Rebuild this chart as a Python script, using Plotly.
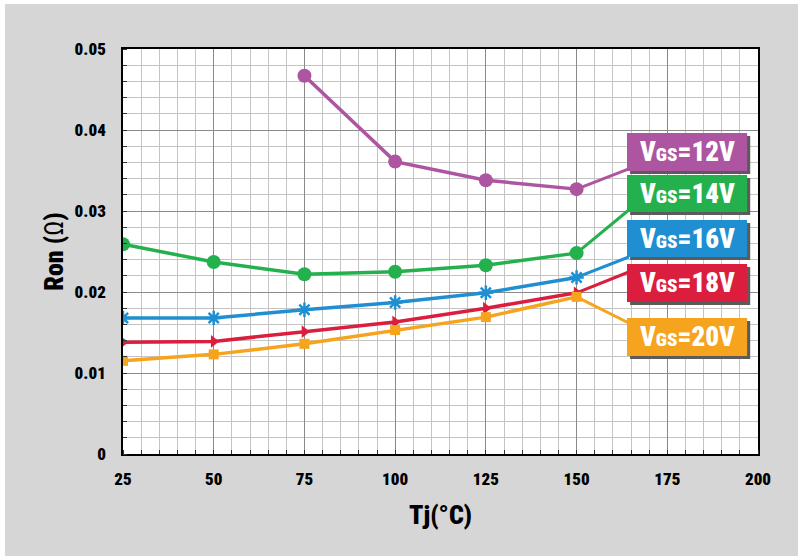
import plotly.graph_objects as go

# ---- data ----
tj = [25, 50, 75, 100, 125, 150]
ron_12v = [None, None, 0.0467, 0.0361, 0.0338, 0.0327]
ron_14v = [0.0259, 0.0237, 0.0222, 0.0225, 0.0233, 0.0248]
ron_16v = [0.0168, 0.0168, 0.0178, 0.0187, 0.0199, 0.0218]
ron_18v = [0.0138, 0.0139, 0.0151, 0.0163, 0.0180, 0.0199]
ron_20v = [0.0115, 0.0123, 0.0136, 0.0153, 0.0169, 0.0194]
series_names = ["12V", "14V", "16V", "18V", "20V"]
x_ticks = [25, 50, 75, 100, 125, 150, 175, 200]
y_ticks = [0, 0.01, 0.02, 0.03, 0.04, 0.05]
y_tick_text = ["0", "0.01", "0.02", "0.03", "0.04", "0.05"]

# ---- styles / layout ----
colors = ["#ad55a0", "#24b14d", "#1f8fd1", "#db1d3e", "#f6a31d"]
symbols = ["circle", "circle", "asterisk-open", "triangle-right", "square"]
msizes = [14, 14, 12, 11, 10]
FONT = "Roboto Condensed, Liberation Sans Narrow, DejaVu Sans Condensed, sans-serif"
W = 900

box_x0, box_x1 = 163.9, 197.0
box_y = [(0.03963, 0.03494), (0.03444, 0.02988), (0.02889, 0.02432),
         (0.02346, 0.01877), (0.01679, 0.01210)]
leader_y = [0.03519, 0.03012, 0.02432, 0.02247, 0.01617]
sh_dx, sh_dy = 0.85, 0.00038

all_series = [ron_12v, ron_14v, ron_16v, ron_18v, ron_20v]

fig = go.Figure()
for name, ys, c, s, ms in zip(series_names, all_series, colors, symbols, msizes):
    fig.add_trace(go.Scatter(
        x=tj, y=ys, mode="lines+markers", name="VGS=" + name,
        line=dict(color=c, width=3.5),
        marker=dict(symbol=s, size=ms, color=c, line=dict(color=c, width=2.5 if "asterisk" in s else 0)),
        showlegend=False, connectgaps=False))

shapes = []
annotations = []
for name, ys, c, (yt, yb), ly in zip(series_names, all_series, colors, box_y, leader_y):
    shapes.append(dict(type="line", xref="x", yref="y", x0=tj[-1], y0=ys[-1], x1=box_x0 + 0.5, y1=ly,
                       line=dict(color=c, width=3), layer="between"))
    shapes.append(dict(type="rect", xref="x", yref="y", x0=box_x0 + sh_dx, x1=box_x1 + sh_dx,
                       y0=yb - sh_dy, y1=yt - sh_dy, fillcolor="#5b5b5b", line=dict(width=0), layer="above"))
    shapes.append(dict(type="rect", xref="x", yref="y", x0=box_x0, x1=box_x1,
                       y0=yb, y1=yt, fillcolor=c, line=dict(width=0), layer="above"))
    annotations.append(dict(xref="x", yref="y", x=(box_x0 + box_x1) / 2, y=(yt + yb) / 2,
                            text="V<span style='font-size:19px'>GS</span>=" + name,
                            showarrow=False, xanchor="center", yanchor="middle",
                            font=dict(family=FONT, size=27, color="white", weight=W)))

# white strips at the left and top edges of the image
shapes.append(dict(type="rect", xref="paper", yref="paper", x0=-0.3, x1=-0.1858, y0=-0.4, y1=1.3,
                   fillcolor="white", line=dict(width=0), layer="below"))
shapes.append(dict(type="rect", xref="paper", yref="paper", x0=-0.3, x1=1.2, y0=1.111, y1=1.3,
                   fillcolor="white", line=dict(width=0), layer="below"))

axis_common = dict(showline=True, linecolor="black", linewidth=1.5, mirror=True,
                   showgrid=True, gridcolor="#8a8a8a", gridwidth=1, zeroline=False,
                   ticks="", tickfont=dict(family=FONT, size=17, color="black", weight=W))

fig.update_layout(
    width=798, height=556,
    margin=dict(l=123, r=40, t=49, b=102),
    paper_bgcolor="#d6d6d6", plot_bgcolor="white",
    shapes=shapes, annotations=annotations,
    xaxis=dict(range=[25, 200], tickvals=x_ticks, **axis_common,
               ticklabelstandoff=9,
               minor=dict(dtick=5, tick0=25, showgrid=True, gridcolor="#c4c4c4", gridwidth=1,
                          ticks="inside", ticklen=4, tickcolor="#333333"),
               title=dict(text="Tj(°C)", standoff=18,
                          font=dict(family=FONT, size=26, color="black", weight=W))),
    yaxis=dict(range=[0, 0.05], tickvals=y_ticks, ticktext=y_tick_text, **axis_common,
               ticklabelstandoff=12,
               minor=dict(dtick=0.002, tick0=0, showgrid=True, gridcolor="#c4c4c4", gridwidth=1,
                          ticks="inside", ticklen=4, tickcolor="#333333"),
               title=dict(text="Ron (<span style='font-weight:normal'>Ω</span>)", standoff=4,
                          font=dict(family=FONT, size=26, color="black", weight=W))),
)

fig.write_html("out.html", config={"displayModeBar": False},
               post_script="document.body.style.margin='0';")
